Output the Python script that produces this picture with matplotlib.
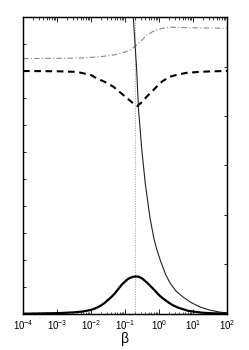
import numpy as np
import matplotlib
matplotlib.use("Agg")
import matplotlib.pyplot as plt
from matplotlib.ticker import LogLocator, NullFormatter, MultipleLocator

plt.rcParams["font.family"] = ["Liberation Sans", "DejaVu Sans"]
plt.rcParams["mathtext.fontset"] = "custom"
plt.rcParams["mathtext.rm"] = "Liberation Sans"

# log10(beta) and values
bold_logb = [-4.0, -3.5, -3.0, -2.5, -2.25, -2.0, -1.85, -1.7, -1.6, -1.5, -1.4,
             -1.3, -1.2, -1.1, -0.95, -0.88, -0.8, -0.73, -0.66, -0.58, -0.5,
             -0.42, -0.35, -0.28, -0.2, -0.1, 0.0, 0.1, 0.2, 0.3, 0.4, 0.55,
             0.7, 0.85, 1.0, 1.25, 1.5, 2.0]
bold_y = [0.01, 0.02, 0.03, 0.06, 0.09, 0.15, 0.22, 0.32, 0.41, 0.52, 0.63,
          0.76, 0.92, 1.08, 1.26, 1.32, 1.36, 1.385, 1.39, 1.37, 1.32,
          1.235, 1.16, 1.07, 0.97, 0.84, 0.7, 0.59, 0.5, 0.41, 0.33, 0.24,
          0.18, 0.12, 0.09, 0.05, 0.03, 0.01]

thin_logb = [-0.82, -0.756, -0.70, -0.656, -0.603, -0.5, -0.4, -0.265, -0.15,
             -0.068, 0.05, 0.2, 0.324, 0.5, 0.706, 0.95, 1.206, 1.5, 1.79, 2.0]
thin_y = [12.3, 11.0, 9.9, 9.04, 7.6, 6.0, 4.8, 3.56, 2.8, 2.4, 1.95, 1.45,
          1.15, 0.85, 0.63, 0.42, 0.26, 0.14, 0.07, 0.04]

dash_logb = [-4.0, -3.0, -2.5, -2.32, -2.0, -1.83, -1.6, -1.344, -1.05, -0.756,
             -0.64, -0.5, -0.362, -0.2, -0.068, 0.1, 0.324, 0.53, 0.8, 1.21, 1.6, 2.0]
dash_y = [9.0, 8.99, 8.97, 8.94, 8.85, 8.73, 8.6, 8.42, 8.11, 7.8,
          7.7, 7.85, 8.05, 8.25, 8.42, 8.62, 8.79, 8.86, 8.93, 8.97, 8.99, 9.0]

dd_logb = [-4.0, -3.0, -2.32, -1.8, -1.344, -1.0, -0.853, -0.656, -0.5, -0.362,
           -0.2, -0.068, 0.1, 0.324, 1.0, 2.0]
dd_y = [9.46, 9.47, 9.48, 9.52, 9.59, 9.7, 9.78, 9.96, 10.15, 10.33,
        10.45, 10.52, 10.58, 10.62, 10.6, 10.58]

beta_mark = 0.2
xtick_exps = [-4, -3, -2, -1, 0, 1, 2]

fig = plt.figure(figsize=(2.49, 3.5), dpi=100)
ax = fig.add_axes([0.0924, 0.1029, 0.8192, 0.8485])

ax.axvline(beta_mark, color="#aaaaaa", lw=0.8, ls=(0, (1, 1.2)), zorder=1)
ax.plot(10.0 ** np.array(dd_logb), dd_y, color="#888888", lw=0.8,
        ls=(0, (5, 2, 1, 2)))
ax.plot(10.0 ** np.array(dash_logb), dash_y, color="black", lw=1.5,
        ls=(0, (3.2, 2.2)))
ax.plot(10.0 ** np.array(thin_logb), thin_y, color="#222222", lw=0.8)
ax.plot(10.0 ** np.array(bold_logb), bold_y, color="black", lw=1.6)

ax.set_xscale("log")
ax.set_xlim(1e-4, 1e2)
ax.set_ylim(0, 11)
ax.set_xticks([10.0 ** e for e in xtick_exps])
ax.set_xticklabels([r"10$^{%d}$" % e for e in xtick_exps], fontsize=7)
ax.xaxis.set_minor_locator(LogLocator(base=10, subs=np.arange(2, 10), numticks=20))
ax.xaxis.set_minor_formatter(NullFormatter())
ax.yaxis.set_major_locator(MultipleLocator(1))
ax.yaxis.set_major_formatter(NullFormatter())
ax.tick_params(axis="x", which="major", direction="in", length=3.5, width=0.6,
               top=True, pad=3)
ax.tick_params(axis="x", which="minor", direction="in", length=1.8, width=0.5,
               top=True)
ax.tick_params(axis="y", which="major", direction="in", length=2.5, width=0.6,
               right=False)
ax.set_xlabel("β", fontsize=10, labelpad=0)
for s in ax.spines.values():
    s.set_linewidth(0.9)

ax2 = ax.twinx()
ax2.set_ylim(0, 6)
ax2.yaxis.set_major_locator(MultipleLocator(1))
ax2.yaxis.set_major_formatter(NullFormatter())
ax2.tick_params(axis="y", direction="in", length=2.5, width=0.6)
for s in ax2.spines.values():
    s.set_linewidth(0.9)

fig.savefig("out.png", dpi=100)
